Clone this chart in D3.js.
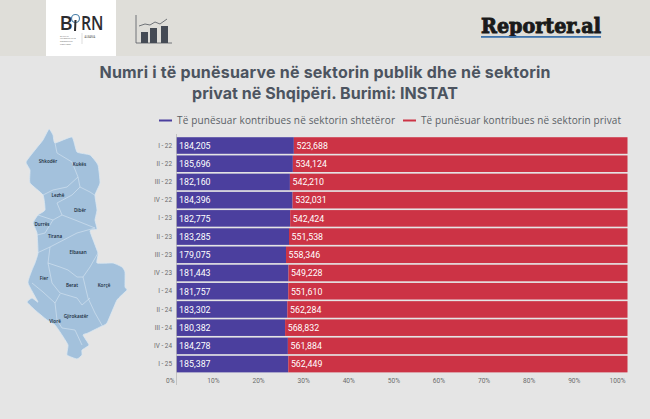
<!DOCTYPE html>
<html><head><meta charset="utf-8">
<script src="https://cdn.jsdelivr.net/npm/d3@7"></script>
<style>html,body{margin:0;padding:0;background:#e5e5e5}svg{display:block}</style>
</head><body><svg id="c" width="650" height="419"></svg>
<script>
const periods=["I - 22","II - 22","III - 22","IV - 22","I - 23","II - 23","III - 23","IV - 23","I - 24","II - 24","III - 24","IV - 24","I - 25"];
const publicSector=[184205,185696,182160,184396,182775,183285,179075,181443,181757,183302,180382,184278,185387];
const privateSector=[523688,534124,542210,532031,542424,551538,558346,549228,551610,562284,568832,561884,562449];
const titleLines=["Numri i të punësuarve në sektorin publik dhe në sektorin","privat në Shqipëri. Burimi: INSTAT"];
const titleWidths=[451,266];
const legendLabels=["Të punësuar kontribues në sektorin shtetëror","Të punësuar kontribues në sektorin privat"];
const percentTicks=[0,.1,.2,.3,.4,.5,.6,.7,.8,.9,1];
const BLUE="#4b3f9e",RED="#cc3345";

const albania=[[49,129],[53,135],[55,143],[72,137],[77,152],[90,155],[98,165],[100,183],[95,195],[97,210],[95,220],[97,229],[90,231],[98,253],[97,263],[113,263],[122,267],[125,272],[125,287],[127,290],[117,300],[107,323],[100,327],[88,333],[83,335],[89,345],[82,350],[82,355],[77,359],[67,355],[68,345],[62,335],[55,325],[47,320],[35,310],[27,302],[32,298],[38,302],[28,283],[32,270],[35,263],[38,253],[37,233],[33,223],[38,215],[45,210],[43,195],[30,183],[30,170],[26,162],[35,150],[43,140]];
const borders=[
 [[55,143],[57,153],[72,162],[78,177]],
 [[78,177],[67,187],[53,190],[43,195]],
 [[78,177],[80,187],[72,195],[57,203],[62,215]],
 [[80,187],[90,192],[96,196]],
 [[38,215],[53,220],[62,215],[75,220],[95,228]],
 [[95,228],[77,233],[50,247],[37,253]],
 [[53,220],[45,233],[37,235]],
 [[98,253],[90,267],[83,277],[88,298],[95,313],[103,327]],
 [[50,247],[48,263],[52,283],[60,293],[77,298],[82,305],[90,298]],
 [[48,263],[60,267],[68,270],[77,277],[83,277]],
 [[32,283],[43,292],[55,303],[57,320]],
 [[55,303],[60,294]],
 [[57,320],[62,328],[75,330],[82,345]]
];
const cityNames=["Shkodër","Kukës","Lezhë","Dibër","Durrës","Tirana","Elbasan","Fier","Berat","Korçë","Gjirokastër","Vlorë"];
const cityX=[48,79.5,58,80,42,55,78,44,72,104,76,55];
const cityY=[161,164.5,195,210,224.5,236,252.5,278,285,285,316,321];

const svg=d3.select("#c");
svg.append("rect").attr("width",650).attr("height",419).attr("fill","#e5e5e5");
svg.append("rect").attr("width",650).attr("height",56).attr("fill","#dfded9");
svg.append("rect").attr("x",46).attr("width",70).attr("height",56).attr("fill","#fff");

// BIRN logo
const logo=svg.append("g").attr("font-family","'Open Sans',sans-serif");
logo.append("text").attr("x",59.5).attr("y",30).attr("font-size",20).attr("font-weight",600).attr("fill","#2c2c30").text("B");
logo.append("text").attr("x",81).attr("y",30).attr("font-size",20).attr("font-weight",600).attr("fill","#2c2c30").attr("textLength",22.5).attr("lengthAdjust","spacingAndGlyphs").text("RN");
logo.append("circle").attr("cx",75.5).attr("cy",18.5).attr("r",4).attr("fill","#fff").attr("stroke","#4a7fa8").attr("stroke-width",1.2);
logo.append("line").attr("x1",75.5).attr("x2",75).attr("y1",20).attr("y2",31).attr("stroke","#2c2c30").attr("stroke-width",2);
["BALKAN","INVESTIGATIVE","REPORTING","NETWORK"].forEach((t,i)=>logo.append("text").attr("x",60).attr("y",36.5+i*2.7).attr("font-size",2.3).attr("fill","#666").text(t));
logo.append("line").attr("x1",82).attr("x2",82).attr("y1",33).attr("y2",44).attr("stroke","#aaa").attr("stroke-width",.4);
logo.append("text").attr("x",84.5).attr("y",38).attr("font-size",2.6).attr("fill","#555").text("ALBANIA");

// chart icon
const icon=svg.append("g");
icon.append("path").attr("d",d3.line()([[136,15],[136,43],[172,43]])).attr("fill","none").attr("stroke","#53585f").attr("stroke-width",.8);
[[141,32],[150,28],[161,26]].forEach(b=>icon.append("rect").attr("x",b[0]).attr("y",b[1]).attr("width",7).attr("height",43-b[1]).attr("fill","#454b55"));
icon.append("path").attr("d",d3.line()([[139,26],[145,24],[150,25],[155,22],[160,24],[167,19]])).attr("fill","none").attr("stroke","#53585f").attr("stroke-width",.8);

// Reporter.al
svg.append("text").attr("x",481).attr("y",33).attr("font-family","'DejaVu Serif',serif").attr("font-weight",700).attr("font-size",20).attr("fill","#1a1a1a").attr("stroke","#1a1a1a").attr("stroke-width",.9).attr("textLength",120).attr("lengthAdjust","spacingAndGlyphs").text("Reporter.al");
svg.append("rect").attr("x",481).attr("y",36).attr("width",120).attr("height",1.8).attr("fill","#3f74ad");

// title
svg.append("g").selectAll("text").data(titleLines).join("text").attr("x",325).attr("y",(d,i)=>77.5+i*21.5)
 .attr("text-anchor","middle").attr("font-family","Inter,sans-serif").attr("font-weight",700).attr("font-size",16)
 .attr("textLength",(d,i)=>titleWidths[i]).attr("lengthAdjust","spacing").attr("fill","#4c5460").text(d=>d);

// legend
const legendX=[[159,172,177,218],[403,416,421,200]];
legendLabels.forEach((t,i)=>{
 svg.append("line").attr("x1",legendX[i][0]).attr("x2",legendX[i][1]).attr("y1",120.5).attr("y2",120.5).attr("stroke",[BLUE,RED][i]).attr("stroke-width",2);
 svg.append("text").attr("x",legendX[i][2]).attr("y",124).attr("font-family","'Open Sans',sans-serif").attr("font-size",10).attr("textLength",legendX[i][3]).attr("fill","#5a5f66").text(t);
});

// map
const map=svg.append("g");
map.append("path").attr("d",d3.line().curve(d3.curveCardinalClosed.tension(.6))(albania)).attr("fill","#a3c1dc").attr("stroke","#dbe7f1").attr("stroke-width",.8);
map.selectAll("path.b").data(borders).join("path").attr("class","b").attr("d",d=>d3.line()(d)).attr("fill","none").attr("stroke","#d8e6f2").attr("stroke-width",.6);
map.selectAll("text").data(cityNames).join("text").attr("x",(d,i)=>cityX[i]).attr("y",(d,i)=>cityY[i]+1.6)
 .attr("text-anchor","middle").attr("font-family","'Open Sans',sans-serif").attr("font-size",4.6).attr("font-weight",600).attr("fill","#16293a").text(d=>d);

// chart
const x=d3.scaleLinear().domain([0,1]).range([176.5,627.5]);
const y=d3.scaleBand().domain(periods).range([136.4,373.2]).paddingInner(.09).paddingOuter(.045);
const rows=periods.map((p,i)=>({p,pub:publicSector[i],pri:privateSector[i]}));
const stack=d3.stack().keys(["pub","pri"]).offset(d3.stackOffsetExpand)(rows);
const colors=[BLUE,RED];
stack.forEach((s,k)=>{
 svg.append("g").selectAll("rect").data(s).join("rect")
  .attr("x",d=>x(d[0])).attr("width",d=>x(d[1])-x(d[0])).attr("y",d=>y(d.data.p)).attr("height",y.bandwidth()).attr("fill",colors[k]);
 svg.append("g").selectAll("text").data(s).join("text")
  .attr("x",d=>x(d[0])+2.6).attr("y",d=>y(d.data.p)+y.bandwidth()/2+3.3)
  .attr("font-family","Roboto,sans-serif").attr("font-size",9.6).attr("textLength",31.5).attr("lengthAdjust","spacingAndGlyphs").attr("fill","#fff").text(d=>d3.format(",")(k?d.data.pri:d.data.pub));
});
// axes
const yAxis=svg.append("g").attr("transform","translate(176,0)").call(d3.axisLeft(y).tickSize(0).tickPadding(4));
yAxis.select(".domain").remove();
yAxis.selectAll("text").attr("font-family","Roboto,sans-serif").attr("font-size",6.4).attr("fill","#6b6b6b");
const xAxis=svg.append("g").attr("transform","translate(0,384)").call(d3.axisBottom(x).tickValues(percentTicks).tickFormat(d3.format(".0%")).tickSize(0));
xAxis.select(".domain").remove();
xAxis.selectAll("text").attr("text-anchor","end").attr("dx",-2.5).attr("y",-1).attr("dy",0).attr("font-family","Roboto,sans-serif").attr("font-size",6.6).attr("fill","#6b6b6b");
svg.append("line").attr("x1",176.5).attr("x2",176.5).attr("y1",134).attr("y2",385).attr("stroke","#aaa").attr("stroke-width",.6);
</script></body></html>
